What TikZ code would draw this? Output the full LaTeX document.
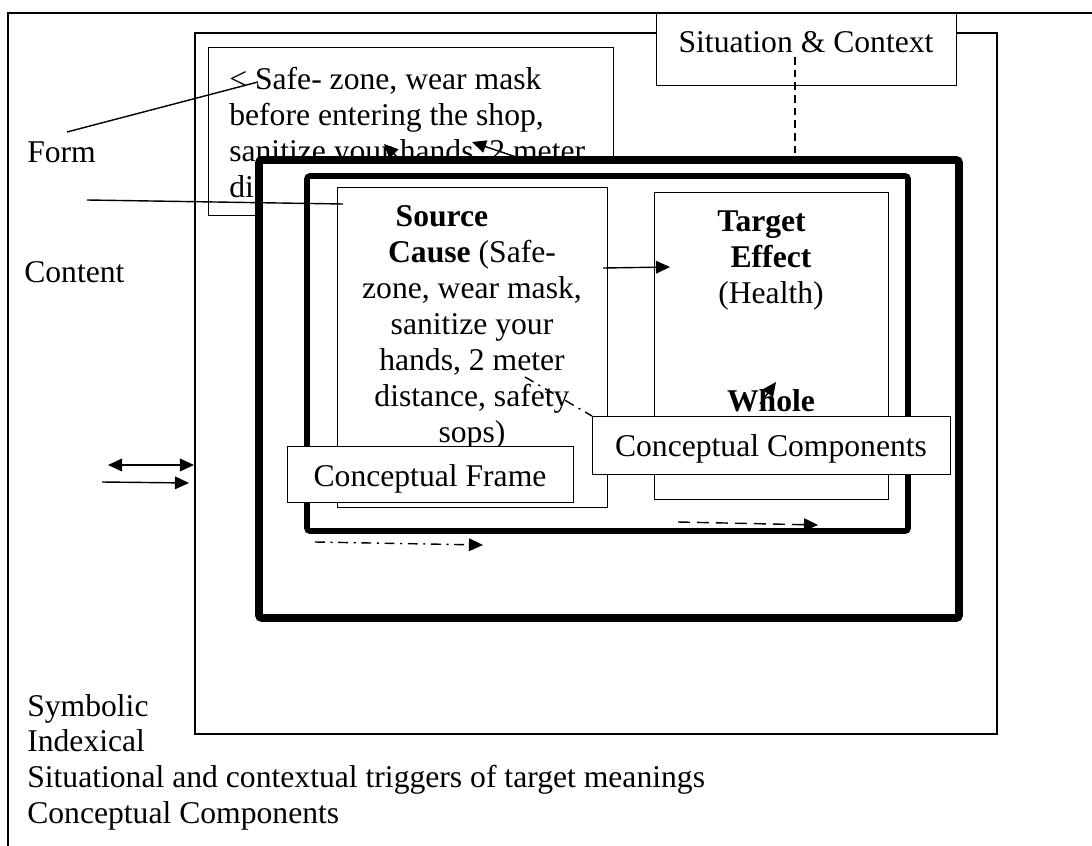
\documentclass[tikz,border=0pt]{standalone}
\usepackage{fontspec}
\setmainfont{Liberation Serif}
\usetikzlibrary{arrows.meta}

\begin{document}
\begin{tikzpicture}
	[x=0.025cm,y=-0.025cm,
	every node/.style={inner sep=0pt,font=\fontsize{22.5}{25.5}\selectfont},
	thinbox/.style={draw,line width=0.7pt,fill=white,anchor=north west},
	thickframe/.style={draw,line width=5.5pt,fill=white,rounded corners=2pt},
	conn/.style={line width=1pt},
	headed/.style={-{Triangle[length=10pt,width=9pt]}},
	dotdash/.style={dash pattern=on 7pt off 4pt on 1.5pt off 4pt}]
	\useasboundingbox (0,0) rectangle (1092,846);
	\draw[line width=0.8pt] (1092,13) -- (8,13) -- (8,846);
	\draw[line width=1.5pt] (195,33) rectangle (997,734);
	\node[thinbox,minimum width=10.125cm,minimum height=4.2cm] (safebox) at (208,47) {};
	\node[anchor=base west,text width=9.6cm,align=flush left] (safetext) at (229,90) {< Safe- zone, wear mask\\before entering the shop,\\sanitize your hands, 2 meter\\distance};
	\node[thinbox,minimum width=7.5cm,minimum height=1.8cm] (sitbox) at (656,13) {};
	\node[anchor=base] (sittext) at (806,53) {Situation \& Context};
	\coordinate (sitdash) at (795,57);
	\coordinate (framedash) at (795,157);
	\coordinate (handsA) at (402,162);
	\coordinate (handsB) at (384,144);
	\coordinate (meterA) at (516,157);
	\coordinate (meterB) at (472,142);
	\draw[conn,dash pattern=on 5.5pt off 3.5pt] (sitdash) -- (framedash);
	\foreach \from/\to in {handsA/handsB,meterA/meterB}
	\draw[conn,headed] (\from) -- (\to);
	\draw[thickframe] (259,160) rectangle (959,618);
	\draw[thickframe,line width=4pt] (307,176) rectangle (908,531);
	\node[thinbox,minimum width=6.75cm,minimum height=8cm] (srcbox) at (337,187) {};
	\node[thinbox,minimum width=5.85cm,minimum height=7.675cm] (tgtbox) at (654,192) {};
	\node[anchor=base,text width=6.5cm,align=flush center] (srctext) at (472,227) {\textbf{Source}\hspace*{1.9em}\mbox{}\\\textbf{Cause} (Safe-\\zone, wear mask,\\sanitize your\\hands, 2 meter\\distance, safety\\sops)};
	\node[anchor=base,text width=5.6cm,align=flush center] (tgttext) at (771,232) {\textbf{Target}\hspace*{0.6em}\mbox{}\\\textbf{Effect}\\(Health)\\[51pt]\textbf{Whole}};
	\coordinate (formtop) at (67,132);
	\coordinate (safestart) at (258,82);
	\coordinate (formlow) at (87,200);
	\coordinate (srccorner) at (343,204);
	\coordinate (causeend) at (603,268);
	\coordinate (effecttip) at (670,267);
	\coordinate (wholeA) at (760,404);
	\coordinate (wholeB) at (776,382);
	\coordinate (meterdash) at (525,377);
	\coordinate (compcorner) at (592,416);
	\foreach \from/\to in {formtop/safestart,formlow/srccorner}
	\draw[conn] (\from) -- (\to);
	\foreach \from/\to in {causeend/effecttip,wholeA/wholeB}
	\draw[conn,headed] (\from) -- (\to);
	\draw[conn,dotdash] (meterdash) -- (compcorner);
	\node[thinbox,minimum width=7.15cm,minimum height=1.4cm] (framebox) at (287,446) {};
	\node[anchor=base] (frametext) at (430,486) {Conceptual Frame};
	\node[thinbox,minimum width=8.95cm,minimum height=1.45cm] (compbox) at (592,416) {};
	\node[anchor=base] (comptext) at (771,456) {Conceptual Components};
	\coordinate (dashA) at (678,522);
	\coordinate (dashB) at (818,525);
	\coordinate (dotA) at (315,542);
	\coordinate (dotB) at (483,545);
	\coordinate (dblA) at (108,465);
	\coordinate (dblB) at (194,465);
	\coordinate (oneA) at (102,482);
	\coordinate (oneB) at (189,483);
	\draw[conn,headed,dash pattern=on 8.5pt off 5pt] (dashA) -- (dashB);
	\draw[conn,headed,dotdash] (dotA) -- (dotB);
	\draw[conn,{Triangle[length=10pt,width=9pt]}-{Triangle[length=10pt,width=9pt]}] (dblA) -- (dblB);
	\draw[conn,headed] (oneA) -- (oneB);
	\node[anchor=base west] (form) at (27,163) {Form};
	\node[anchor=base west] (content) at (24,283) {Content};
	\node[anchor=base west,text width=18cm,align=flush left] (legend) at (27,716) {Symbolic\\Indexical\\Situational and contextual triggers of target meanings\\Conceptual Components};
\end{tikzpicture}
\end{document}
